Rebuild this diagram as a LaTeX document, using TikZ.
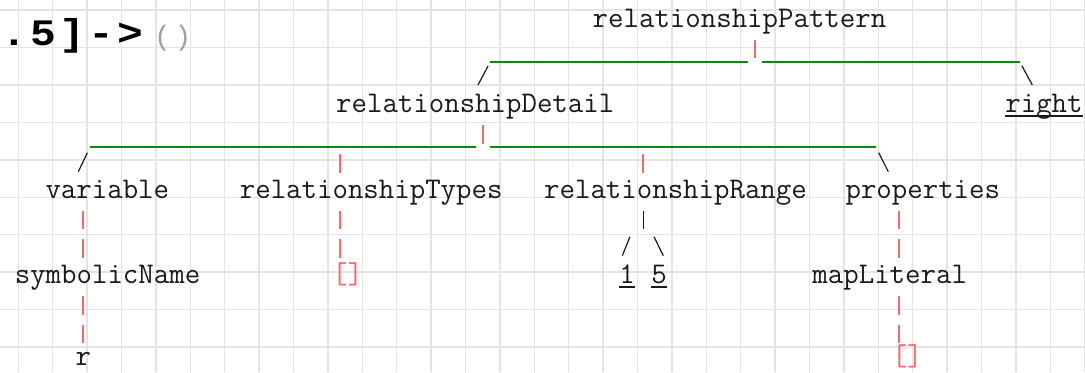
\documentclass[tikz,border=0pt]{standalone}
\usepackage{fontspec}
\newfontfamily\codefont{Liberation Mono}
\newfontfamily\codefontwide[FakeStretch=1.15]{Liberation Mono}
\usetikzlibrary{calc}
\definecolor{ink}{HTML}{1A1A1A}
\definecolor{barred}{HTML}{FF6666}
\definecolor{bargreen}{HTML}{0C880C}
\definecolor{parengray}{HTML}{A0A0A0}
\definecolor{gridgray}{HTML}{E4E4E4}
\tikzset{
    tok/.style={anchor=base, inner sep=0, text=ink, font=\ttfamily\fontsize{22.5}{27}\selectfont},
    nil/.style={style=tok, text=barred},
    big/.style={anchor=base, inner sep=0, text=black, font=\codefontwide\bfseries\fontsize{28}{32}\selectfont},
    paren/.style={anchor=base, inner sep=0, text=parengray, font=\codefont\fontsize{21}{24}\selectfont},
    bar/.style={draw=bargreen, line width=1.7pt},
    tick/.style={draw=barred, line width=1.3pt},
    pipe/.style={style=tick, dash pattern=on 13.95pt off 7.4pt, shorten <=9.5pt, shorten >=18.9pt},
    slash/.style={draw=ink, line width=0.9pt},
    uline/.style={draw=ink, line width=1.1pt},
    gridline/.style={draw=gridgray, line width=1.1pt}
}

\begin{document}
\begin{tikzpicture}[x=0.75pt, y=-0.75pt]
  \fill[white] (0, 0) rectangle (1085, 372);
  \useasboundingbox (0, 0) rectangle (1085, 372);
  \foreach \i in {0,...,31}
    \draw[gridline] ({18.3+34.4*\i}, 0) -- ({18.3+34.4*\i}, 372);
  \foreach \j in {0,...,9}
    \draw[gridline] (0, {10+37.45*\j}) -- (1085, {10+37.45*\j});

  % cut-off text at the top left
  \foreach \ch [count=\i] in {., 5, ], -, >}
    \node[big] (tail\i) at ({14+29.1*(\i-1)}, 45) {\ch};
  \node[paren] (open) at (162.5, 45.5) {(};
  \node[paren] (close) at (183, 45.5) {)};

  \node[tok] (pattern) at (739.5, 27) {relationshipPattern};
  \node[tok] (detail) at (475.2, 112.5) {relationshipDetail};
  \node[tok] (pat_right) at (1044, 112.5) {right};
  \node[tok] (variable) at (107.3, 198) {variable};
  \node[tok] (types) at (371.2, 198) {relationshipTypes};
  \node[tok] (range) at (675.5, 198) {relationshipRange};
  \node[tok] (properties) at (922.8, 198) {properties};
  \node[tok] (symbolic) at (107.5, 283.5) {symbolicName};
  \node[nil] (types_nil) at (347.5, 283.5) {[]};
  \node[tok] (one) at (627.2, 283.5) {1};
  \node[tok] (five) at (659.2, 283.5) {5};
  \node[tok] (literal) at (889.7, 283.5) {mapLiteral};
  \node[tok] (name_r) at (83.3, 365.5) {r};
  \node[nil] (props_nil) at (907.2, 365.5) {[]};

  \coordinate (pat_l) at (490, 62.3);
  \coordinate (pat_j) at (755, 62.3);
  \coordinate (pat_r) at (1020, 62.3);
  \coordinate (det_l) at (90, 147.3);
  \coordinate (det_j) at (482.7, 147.3);
  \coordinate (det_r) at (876, 147.3);
  \coordinate (types_col) at ([xshift=5.9pt]types_nil.base west);
  \coordinate (props_col) at ([xshift=5.9pt]props_nil.base west);
  \coordinate (range_col) at ($(one.base)!0.5!(five.base)$);
  \coordinate (detail_in) at (478, 85);
  \coordinate (right_in) at (1032.3, 85);
  \coordinate (variable_in) at (78.3, 171.7);
  \coordinate (properties_in) at (888.3, 171.7);
  \coordinate (one_top) at (630, 236.7);
  \coordinate (one_in) at (622.3, 255.7);
  \coordinate (five_top) at (654, 236.7);
  \coordinate (five_in) at (663.3, 255.7);

  % relationshipPattern
  \draw[tick, shorten <=9.7pt, shorten >=3pt] (pattern.base -| pat_j) to (pat_j);
  \draw[bar] (pat_l) to ([xshift=-5.5pt]pat_j);
  \draw[bar] ([xshift=5.5pt]pat_j) to (pat_r);
  \draw[slash, shorten <=3.1pt] (pat_l) to (detail_in);
  \draw[slash, shorten <=2.9pt] (pat_r) to (right_in);
  \draw[uline] ([yshift=-2.6pt]pat_right.base west) to ([yshift=-2.6pt]pat_right.base east);

  % relationshipDetail
  \draw[tick, shorten <=9.4pt, shorten >=2.3pt] (detail.base -| det_j) to (det_j);
  \draw[bar] (det_l) to ([xshift=-5.3pt]det_j);
  \draw[bar] ([xshift=5.3pt]det_j) to (det_r);
  \draw[slash, shorten <=4.5pt] (det_l) to (variable_in);
  \draw[slash, shorten <=4.5pt] (det_r) to (properties_in);
  \draw[tick, shorten <=5pt, shorten >=18.5pt] (det_j -| types_col) to (types.base -| types_col);
  \draw[tick, shorten <=5pt, shorten >=18.5pt] (det_j -| range_col) to (range.base -| range_col);

  % children
  \draw[pipe] (variable.base -| name_r) to (symbolic.base -| name_r);
  \draw[pipe, shorten >=16.3pt] (symbolic.base -| name_r) to (name_r.base);
  \draw[pipe] (types.base -| types_col) to (types_col);
  \draw[pipe] (properties.base -| props_col) to (literal.base -| props_col);
  \draw[pipe, shorten >=16.3pt] (literal.base -| props_col) to (props_col);
  \draw[slash, shorten <=9.5pt, shorten >=40.6pt] (range.base -| range_col) to (range_col);
  \draw[slash] (one_top) to (one_in);
  \draw[slash] (five_top) to (five_in);
  \draw[uline] ([yshift=-2.6pt]one.base west) to ([yshift=-2.6pt]one.base east);
  \draw[uline] ([yshift=-2.6pt]five.base west) to ([yshift=-2.6pt]five.base east);
\end{tikzpicture}
\end{document}
